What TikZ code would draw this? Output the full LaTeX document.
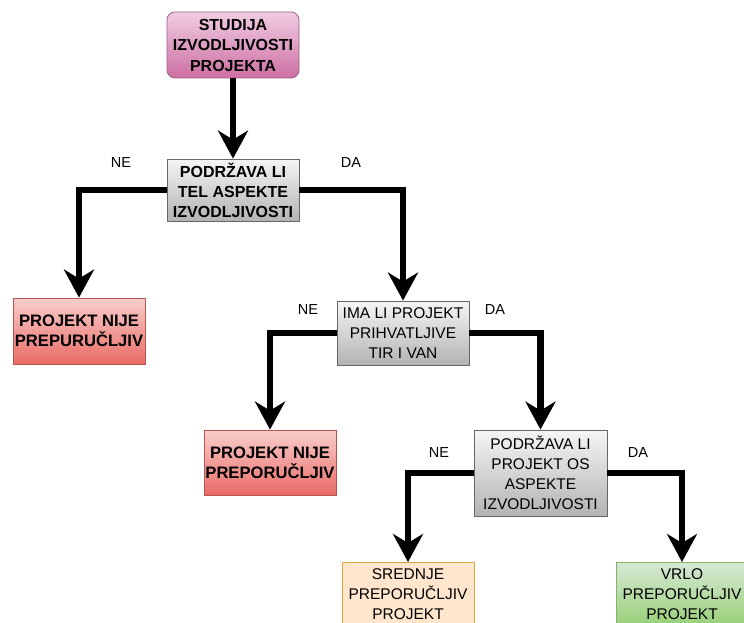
\documentclass[tikz,border=0pt]{standalone}
\usepackage{fontspec}
\setmainfont{Liberation Sans}
\usetikzlibrary{arrows.meta}
\definecolor{pinkT}{HTML}{F0CCE2}
\definecolor{pinkB}{HTML}{CD6FA2}
\definecolor{pinkS}{HTML}{996185}
\definecolor{redT}{HTML}{F8CECC}
\definecolor{redB}{HTML}{EA6B66}
\definecolor{redS}{HTML}{B85450}
\definecolor{grayT}{HTML}{F5F5F5}
\definecolor{grayB}{HTML}{B3B3B3}
\definecolor{grayS}{HTML}{666666}
\definecolor{greenT}{HTML}{D5E8D4}
\definecolor{greenB}{HTML}{97D077}
\definecolor{greenS}{HTML}{82B366}
\definecolor{orangeF}{HTML}{FFE6CC}
\definecolor{orangeS}{HTML}{E0A53A}
\tikzset{
  x=1pt, y=-1pt,
  box/.style={minimum width=132pt, inner sep=0pt, align=center, line width=0.8pt,
    font=\fontsize{15.5}{20}\selectfont},
  pinkbox/.style={box, rounded corners=8pt, draw=pinkS, top color=pinkT, bottom color=pinkB,
    font=\fontsize{16}{20.5}\selectfont\bfseries},
  graybox/.style={box, draw=grayS, top color=grayT, bottom color=grayB},
  graybold/.style={graybox, font=\fontsize{16}{20}\selectfont\bfseries},
  redbox/.style={box, draw=redS, top color=redT, bottom color=redB,
    font=\fontsize{16.6}{20}\selectfont\bfseries},
  greenbox/.style={box, draw=greenS, top color=greenT, bottom color=greenB},
  orangebox/.style={box, draw=orangeS, fill=orangeF},
  conn/.style={line width=6.5pt, -{Stealth[length=28pt, width=30pt, inset=9pt]}},
  lbl/.style={font=\fontsize{14.5}{16}\selectfont, inner sep=0pt}
}
\begin{document}
\begin{tikzpicture}
\path[use as bounding box, clip] (0,0) rectangle (744,623);
\node[pinkbox, minimum height=66pt] (s) at (233,45) {STUDIJA\\IZVODLJIVOSTI\\PROJEKTA};
\node[graybold, minimum height=62pt] (q1) at (233,190) {PODRŽAVA LI\\TEL ASPEKTE\\IZVODLJIVOSTI};
\node[redbox, minimum height=66pt] (r1) at (79,331) {PROJEKT NIJE\\PREPURUČLJIV};
\node[graybox, minimum height=64pt] (q2) at (403,333) {IMA LI PROJEKT\\PRIHVATLJIVE\\TIR I VAN};
\node[redbox, minimum height=65pt] (r2) at (270,462.5) {PROJEKT NIJE\\PREPORUČLJIV};
\node[graybox, minimum width=133pt, minimum height=86pt] (q3) at (540.5,473) {PODRŽAVA LI\\PROJEKT OS\\ASPEKTE\\IZVODLJIVOSTI};
\node[orangebox, minimum height=64pt, anchor=north] (o) at (408,562) {SREDNJE\\PREPORUČLJIV\\PROJEKT};
\node[greenbox, minimum height=64pt, anchor=north] (g) at (682,562) {VRLO\\PREPORUČLJIV\\PROJEKT};

\draw[conn] (s.south) -- (q1.north);
\draw[conn] (q1.west) -| (r1.north);
\draw[conn] (q1.east) -| (q2.north);
\draw[conn] (q2.west) -| (r2.north);
\draw[conn] (q2.east) -| (q3.north);
\draw[conn] (q3.west) -| (o.north);
\draw[conn] (q3.east) -| (g.north);

\node[lbl] (l1) at (121,163) {NE};
\node[lbl] (l2) at (351,163) {DA};
\node[lbl] (l3) at (308,310) {NE};
\node[lbl] (l4) at (495,310) {DA};
\node[lbl] (l5) at (439,453) {NE};
\node[lbl] (l6) at (638,453) {DA};
\end{tikzpicture}
\end{document}
